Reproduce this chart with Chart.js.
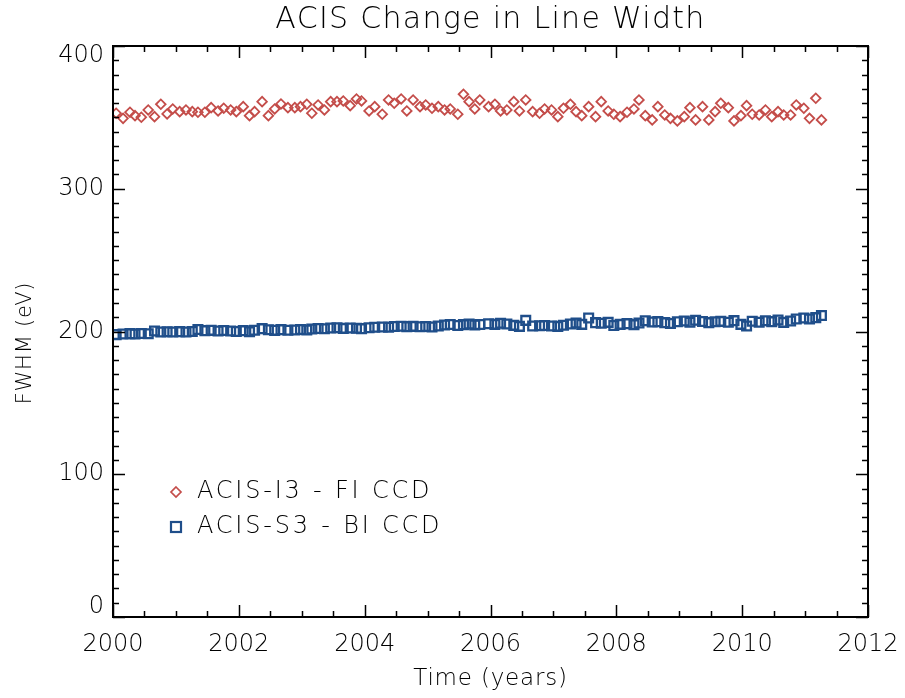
<!DOCTYPE html>
<html>
<head>
<meta charset="utf-8">
<script src="https://cdn.jsdelivr.net/npm/chart.js@4"></script>
<style>
html,body{margin:0;padding:0;background:#fff;}
#wrap{width:905px;height:698px;position:relative;}
</style>
</head>
<body>
<div id="wrap"><canvas id="c" width="905" height="698"></canvas></div>
<script>
// ---- data ----
const chartTitle = "ACIS Change in Line Width";
const xTitle = "Time (years)";
const yTitle = "FWHM (eV)";
const seriesNames = ["ACIS-I3 - FI CCD", "ACIS-S3 - BI CCD"];
const xTickLabels = ["2000","2002","2004","2006","2008","2010","2012"];
const yTickLabels = ["0","100","200","300","400"];

const years = [
2000.05,2000.16,2000.27,2000.35,2000.45,2000.56,2000.66,2000.76,2000.86,2000.95,
2001.06,2001.16,2001.26,2001.35,2001.46,2001.56,2001.67,2001.76,2001.87,2001.96,
2002.07,2002.17,2002.25,2002.37,2002.47,2002.57,2002.67,2002.78,2002.89,2002.98,
2003.08,2003.16,2003.26,2003.36,2003.46,2003.56,2003.66,2003.77,2003.87,2003.95,
2004.07,2004.16,2004.28,2004.38,2004.47,2004.58,2004.67,2004.77,2004.88,2004.97,
2005.07,2005.17,2005.27,2005.36,2005.48,2005.57,2005.66,2005.75,2005.83,2005.97,
2006.07,2006.16,2006.26,2006.37,2006.46,2006.56,2006.67,2006.78,2006.86,2006.97,
2007.07,2007.16,2007.27,2007.36,2007.45,2007.56,2007.67,2007.76,2007.87,2007.96,
2008.06,2008.17,2008.28,2008.36,2008.46,2008.57,2008.66,2008.77,2008.86,2008.97,
2009.08,2009.17,2009.26,2009.37,2009.47,2009.57,2009.66,2009.78,2009.87,2009.98,
2010.07,2010.16,2010.27,2010.37,2010.47,2010.57,2010.66,2010.77,2010.86,2010.98,
2011.07,2011.17,2011.26
];

const fwhmI3 = [
352.9,349.3,353.6,351.2,350.1,355.2,350.5,359.2,352.4,355.9,
354.0,355.2,354.0,353.6,353.6,356.8,354.5,356.4,355.2,354.0,
357.5,351.2,354.0,361.0,351.2,355.9,359.4,356.8,356.8,357.5,
359.2,352.9,358.7,355.2,361.0,361.0,361.5,358.2,362.9,361.5,
354.5,357.5,352.2,362.2,359.9,362.9,354.5,362.2,357.5,358.7,
356.4,357.5,355.2,355.9,352.2,366.2,361.0,355.9,362.2,357.5,
359.2,354.5,355.2,361.0,354.5,362.2,354.0,352.9,355.9,355.2,
350.5,356.4,359.2,354.0,351.2,357.5,350.5,361.0,354.5,352.2,
350.5,353.6,355.9,362.2,351.2,348.2,357.5,351.7,349.3,347.5,
350.5,356.8,348.2,357.5,348.2,354.0,359.9,356.8,347.5,351.2,
358.2,352.2,351.7,355.2,350.5,354.0,351.7,351.7,358.7,356.4,
349.3,363.4,348.2
];

const fwhmS3 = [
197.8,198.3,198.5,198.3,198.6,198.4,200.3,199.6,199.8,199.6,
199.9,199.7,200.0,201.4,200.6,200.8,200.4,200.7,200.3,200.0,
200.6,199.8,200.9,202.0,201.2,200.8,201.3,200.9,201.1,201.4,
201.0,201.8,202.1,201.9,202.4,202.6,202.2,202.5,202.3,202.0,
202.6,203.0,203.2,203.0,203.5,203.7,203.4,203.6,203.3,203.5,
203.1,203.8,204.5,204.9,204.2,204.8,205.3,204.6,204.9,205.4,
205.0,205.8,205.2,204.3,203.6,207.8,203.8,204.0,204.2,203.9,
203.6,204.4,205.3,205.9,205.0,209.4,206.2,205.8,206.4,204.2,
205.0,205.5,204.8,206.0,207.5,206.6,206.9,206.2,205.6,206.8,
207.3,206.5,207.9,207.0,206.2,206.8,207.1,206.5,207.6,205.0,
203.8,207.2,206.5,207.5,206.9,208.0,206.4,207.3,208.7,209.5,
208.8,209.7,211.2
];

// ---- style ----
const RED = "#c44d4a";
const BLUE = "#1f4e8a";
const FONT = "'DejaVu Sans', sans-serif";
const FW = 200;

const toXY = (xs, ys) => xs.map((x, i) => ({x: x, y: ys[i]}));

const idlAxes = {
  id: 'idlAxes',
  afterDraw(chart) {
    const ctx = chart.ctx;
    const a = chart.chartArea;
    const xs = chart.scales.x, ys = chart.scales.y;
    ctx.save();
    ctx.strokeStyle = '#000';
    ctx.lineWidth = 2;
    ctx.strokeRect(a.left, a.top, a.right - a.left, a.bottom - a.top);
    ctx.lineWidth = 1.5;
    ctx.beginPath();
    for (let v = 2000; v <= 2012.001; v += 0.5) {
      const px = Math.round(xs.getPixelForValue(v)) + 0.5;
      const major = Math.abs(v / 2 - Math.round(v / 2)) < 1e-6;
      const L = major ? 12 : 6;
      ctx.moveTo(px, a.bottom); ctx.lineTo(px, a.bottom - L);
      ctx.moveTo(px, a.top); ctx.lineTo(px, a.top + L);
    }
    for (let v = 0; v <= 400.001; v += 10) {
      const py = Math.round(ys.getPixelForValue(v)) + 0.5;
      const major = Math.abs(v % 100) < 1e-6;
      const L = major ? 12 : 6;
      ctx.moveTo(a.left, py); ctx.lineTo(a.left + L, py);
      ctx.moveTo(a.right, py); ctx.lineTo(a.right - L, py);
    }
    ctx.stroke();
    ctx.fillStyle = '#000';
    // y tick labels
    ctx.font = FW + " 24px " + FONT;
    ctx.textAlign = 'right';
    ctx.textBaseline = 'middle';
    yTickLabels.forEach((lab, i) => {
      const v = Number(lab);
      let py = ys.getPixelForValue(v);
      if (i === 0) py -= 10;
      if (i === yTickLabels.length - 1) py += 10;
      ctx.fillText(lab, a.left - 9, py);
    });
    // x tick labels
    ctx.textAlign = 'center';
    xTickLabels.forEach((lab) => {
      ctx.fillText(lab, xs.getPixelForValue(Number(lab)), a.bottom + 28);
    });
    // title
    ctx.font = FW + " 30px " + FONT;
    ctx.letterSpacing = '1.3px';
    ctx.fillText(chartTitle, (a.left + a.right) / 2, 20);
    // axis titles
    ctx.font = FW + " 23px " + FONT;
    ctx.letterSpacing = '0.8px';
    ctx.fillText(xTitle, (a.left + a.right) / 2, 679);
    ctx.save();
    ctx.translate(26, 343);
    ctx.rotate(-Math.PI / 2);
    ctx.font = FW + " 21px " + FONT;
    ctx.fillText(yTitle, 0, 0);
    ctx.restore();
    // legend inside plot
    ctx.textAlign = 'left';
    ctx.font = FW + " 24px " + FONT;
    ctx.letterSpacing = '2.8px';
    const lx = a.left + 63;
    const ly1 = a.bottom - 125, ly2 = a.bottom - 90;
    ctx.lineWidth = 1.7;
    ctx.strokeStyle = RED;
    ctx.beginPath();
    ctx.moveTo(lx, ly1 - 5); ctx.lineTo(lx + 5, ly1); ctx.lineTo(lx, ly1 + 5); ctx.lineTo(lx - 5, ly1); ctx.closePath();
    ctx.stroke();
    ctx.strokeStyle = BLUE;
    ctx.lineWidth = 2.2;
    ctx.strokeRect(lx - 5, ly2 - 5, 10, 10);
    ctx.fillStyle = '#000';
    ctx.fillText(seriesNames[0], lx + 21, ly1);
    ctx.fillText(seriesNames[1], lx + 21, ly2);
    ctx.restore();
  }
};

new Chart(document.getElementById('c'), {
  type: 'scatter',
  data: {
    datasets: [
      {
        label: seriesNames[0],
        data: toXY(years, fwhmI3),
        pointStyle: 'rectRot',
        pointRadius: 4.8,
        pointBorderWidth: 1.8,
        borderColor: RED,
        backgroundColor: 'rgba(0,0,0,0)',
        pointHoverRadius: 4.8
      },
      {
        label: seriesNames[1],
        data: toXY(years, fwhmS3),
        pointStyle: 'rect',
        pointRadius: 6.2,
        pointBorderWidth: 2.3,
        borderColor: BLUE,
        backgroundColor: 'rgba(0,0,0,0)',
        pointHoverRadius: 6.2
      }
    ]
  },
  options: {
    responsive: false,
    animation: false,
    events: [],
    layout: { padding: { left: 113, right: 37, top: 46, bottom: 81 } },
    plugins: {
      legend: { display: false },
      tooltip: { enabled: false },
      title: { display: false }
    },
    scales: {
      x: {
        type: 'linear',
        display: false,
        min: 2000, max: 2012
      },
      y: {
        type: 'linear',
        display: false,
        min: 0, max: 400
      }
    }
  },
  plugins: [idlAxes]
});
</script>
</body>
</html>
